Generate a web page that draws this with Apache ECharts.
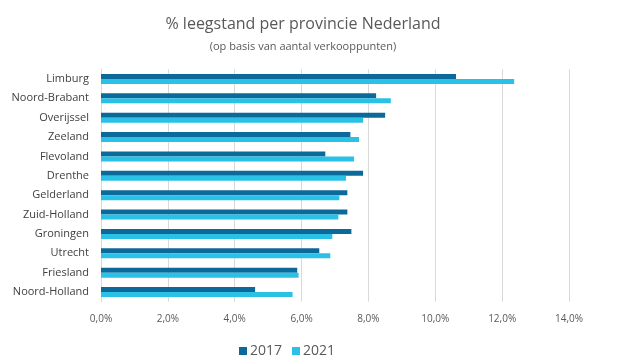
<!DOCTYPE html>
<html><head><meta charset="utf-8">
<script src="https://cdn.jsdelivr.net/npm/echarts@6/dist/echarts.min.js"></script>
<style>html,body{margin:0;padding:0;background:#fff}#c{width:641px;height:361px}</style>
</head><body><div id="c"></div>
<script>
const categories = ['Limburg','Noord-Brabant','Overijssel','Zeeland','Flevoland','Drenthe','Gelderland','Zuid-Holland','Groningen','Utrecht','Friesland','Noord-Holland'];
const values2017 = [10.62, 8.23, 8.50, 7.46, 6.71, 7.84, 7.37, 7.37, 7.49, 6.53, 5.87, 4.61];
const values2021 = [12.36, 8.67, 7.84, 7.72, 7.57, 7.33, 7.13, 7.10, 6.92, 6.86, 5.91, 5.73];
const seriesNames = ['2017', '2021'];
const xTicks = [0, 2, 4, 6, 8, 10, 12, 14];

const chart = echarts.init(document.getElementById('c'), null, {renderer: 'canvas'});
const font = 'Open Sans, Noto Sans, sans-serif';
chart.setOption({
  animation: false,
  backgroundColor: '#fff',
  title: [
    {text: '% leegstand per provincie Nederland', left: 298, top: 11, textAlign: 'center',
     textStyle: {fontFamily: font, fontSize: 16, fontWeight: 'normal', color: '#595959'}},
    {text: '(op basis van aantal verkooppunten)', left: 298, top: 36, textAlign: 'center',
     textStyle: {fontFamily: font, fontSize: 11, fontWeight: 'normal', color: '#595959'}}
  ],
  legend: {
    data: seriesNames, left: 234, top: 339,
    itemWidth: 8, itemHeight: 8, itemGap: 10, icon: 'rect',
    textStyle: {fontFamily: font, fontSize: 14, color: '#595959', padding: [0,0,0,-2]}
  },
  grid: {left: 101, right: 72, top: 69.3, bottom: 59.3, containLabel: false},
  xAxis: {
    type: 'value', min: xTicks[0], max: xTicks[xTicks.length-1], interval: 2,
    axisLine: {show: false}, axisTick: {show: false},
    splitLine: {lineStyle: {color: '#d9d9d9', width: 1}},
    axisLabel: {fontFamily: font, fontSize: 10, color: '#595959', margin: 12,
      formatter: v => v.toFixed(1).replace('.', ',') + '%'}
  },
  yAxis: {
    type: 'category', data: categories, inverse: true,
    axisLine: {show: true, lineStyle: {color: '#d9d9d9'}}, axisTick: {show: false},
    axisLabel: {fontFamily: font, fontSize: 11, color: '#404040', margin: 12}
  },
  series: [
    {name: seriesNames[0], type: 'bar', data: values2017, barWidth: 5, barGap: '0%',
     itemStyle: {color: '#0B6A9A'}},
    {name: seriesNames[1], type: 'bar', data: values2021, barWidth: 5, barGap: '0%',
     itemStyle: {color: '#2BC0E6'}}
  ]
});
</script></body></html>
